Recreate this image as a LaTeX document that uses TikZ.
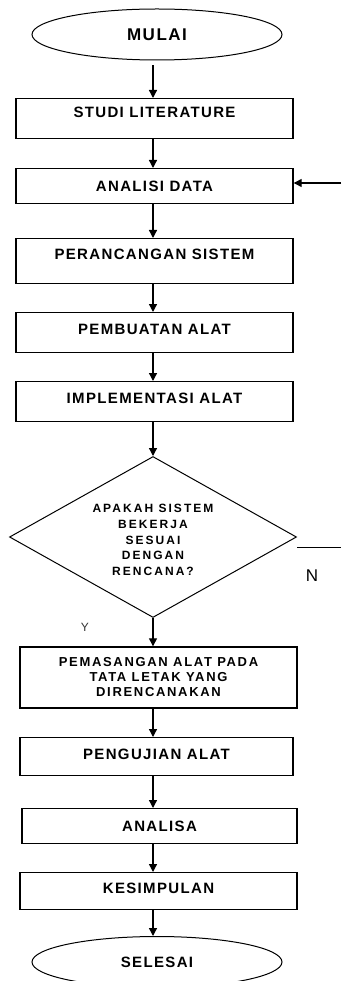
\documentclass[tikz,border=0pt]{standalone}
\usepackage{fontspec}
\setmainfont{Liberation Sans}
\newfontfamily\lblfont[LetterSpace=9]{Liberation Sans}
\newfontfamily\smfont[LetterSpace=17]{Liberation Sans}
\newfontfamily\pmfont[LetterSpace=13]{Liberation Sans}
\usetikzlibrary{shapes.geometric,arrows.meta}
\begin{document}
\begin{tikzpicture}[x=1pt,y=-1pt,
  boxst/.style={draw, line width=1.4pt, inner sep=0pt, anchor=north,
    font=\lblfont\bfseries\fontsize{15}{17}\selectfont},
  termst/.style={draw, ellipse, line width=1pt, inner sep=0pt,
    minimum width=250pt, minimum height=51pt},
  arr/.style={line width=1.3pt, -{Triangle[width=8pt,length=8pt]}},
  plainline/.style={line width=1pt}]
\useasboundingbox (0,0) rectangle (341,981);
\coordinate (ax) at (153,0);
% terminals
\node[termst, font=\lblfont\bfseries\fontsize{17}{19}\selectfont] (mulai) at (157,34.5) {MULAI};
\node[termst, font=\lblfont\bfseries\fontsize{15}{17}\selectfont] (selesai) at (157,962) {SELESAI};
% boxes
\node[boxst, minimum width=277pt, text height=19pt, text depth=21pt] (studi) at (154.5,98) {STUDI LITERATURE};
\node[boxst, minimum width=277pt, text height=22.5pt, text depth=12.5pt] (analisi) at (154.5,168) {ANALISI DATA};
\node[boxst, minimum width=277pt, text height=21pt, text depth=24pt] (peranc) at (154.5,238) {PERANCANGAN SISTEM};
\node[boxst, minimum width=277pt, text height=21.5pt, text depth=18.5pt] (pembuatan) at (154.5,312) {PEMBUATAN ALAT};
\node[boxst, minimum width=277pt, text height=21.5pt, text depth=18.5pt] (impl) at (154.5,381) {IMPLEMENTASI ALAT};
% decision
\node[draw, diamond, line width=1pt, inner sep=0pt, minimum width=287pt, minimum height=161pt] (dia) at (153,537) {};
\node[align=center, inner sep=0pt, font=\smfont\bfseries\fontsize{12}{15.7}\selectfont] (diatxt) at (153,540)
  {APAKAH SISTEM\\BEKERJA\\SESUAI\\DENGAN\\RENCANA?};
\node[boxst, anchor=center, minimum width=277pt, minimum height=61pt, align=center,
  font=\pmfont\bfseries\fontsize{13}{15}\selectfont] (pemasangan) at (158.5,677.5)
  {PEMASANGAN ALAT PADA\\TATA LETAK YANG\\DIRENCANAKAN};
\node[boxst, minimum width=273pt, text height=22pt, text depth=16pt] (pengujian) at (156.5,737) {PENGUJIAN ALAT};
\node[boxst, minimum width=275pt, text height=23pt, text depth=12pt] (analisa) at (159.5,808) {ANALISA};
\node[boxst, minimum width=277pt, text height=21pt, text depth=16pt] (kesimpulan) at (158.5,872) {KESIMPULAN};
% labels
\node[font=\fontsize{12}{13}\selectfont, text=black!80, inner sep=0pt] (ylbl) at (85,627) {Y};
\node[font=\fontsize{17}{18}\selectfont, inner sep=0pt] (nlbl) at (312,576) {N};
% connectors
\draw[arr] ([yshift=-5pt]mulai.south -| ax) -- (studi.north -| ax);
\draw[arr] (studi.south -| ax) -- (analisi.north -| ax);
\draw[arr] (analisi.south -| ax) -- (peranc.north -| ax);
\draw[arr] (peranc.south -| ax) -- (pembuatan.north -| ax);
\draw[arr] (pembuatan.south -| ax) -- (impl.north -| ax);
\draw[arr] (impl.south -| ax) -- (dia.north);
\draw[arr] (dia.south) -- (pemasangan.north -| ax);
\draw[arr] (pemasangan.south -| ax) -- (pengujian.north -| ax);
\draw[arr] (pengujian.south -| ax) -- (analisa.north -| ax);
\draw[arr] (analisa.south -| ax) -- (kesimpulan.north -| ax);
\draw[arr] (kesimpulan.south -| ax) -- (selesai.north -| ax);
\coordinate (fbin) at (341,183);
\draw[arr] (fbin) -- (fbin -| analisi.east);
\coordinate (nstart) at (297,547);
\coordinate (nend) at (341,547);
\draw[plainline] (nstart) -- (nend);
\end{tikzpicture}
\end{document}
